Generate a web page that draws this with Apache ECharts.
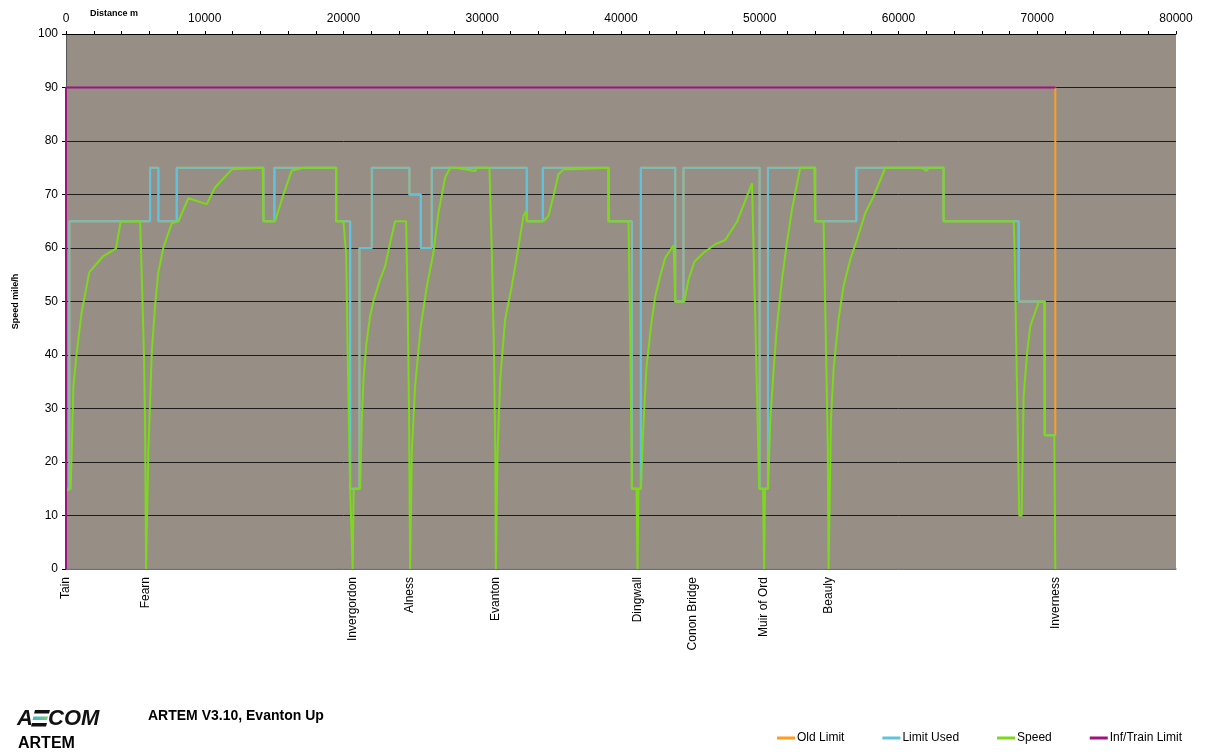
<!DOCTYPE html>
<html>
<head>
<meta charset="utf-8">
<title>ARTEM V3.10, Evanton Up</title>
<script src="https://cdn.jsdelivr.net/npm/echarts@6/dist/echarts.min.js"></script>
<style>
  html, body { margin: 0; padding: 0; background: #ffffff; }
  #chart { width: 1206px; height: 756px; }
</style>
</head>
<body>
<div id="chart"></div>
<script>
// Station positions along the route (m)
const stationNames = ['Tain', 'Fearn', 'Invergordon', 'Alness', 'Evanton', 'Dingwall',
  'Conon Bridge', 'Muir of Ord', 'Beauly', 'Inverness'];
const stationDist = [0, 5770, 20660, 24800, 30980, 41190, 45200, 50310, 54960, 71300];

// Distance axis ticks (m) and speed axis ticks (mile/h)
const distTicks = [0, 10000, 20000, 30000, 40000, 50000, 60000, 70000, 80000];
const speedTicks = [0, 10, 20, 30, 40, 50, 60, 70, 80, 90, 100];

// Limit used: each value applies from its distance to the next one
const limitDist = [0, 240, 6060, 6660, 7980, 14230, 15020, 19470, 20480, 21150, 22040,
  24750, 25570, 26360, 33210, 34370, 39100, 40780, 41430, 43910, 44500, 49990, 50590,
  54000, 56960, 63250, 68660, 70540, 71300];
const limitSpeed = [15, 65, 75, 65, 75, 65, 75, 65, 15, 60, 75,
  70, 60, 75, 65, 75, 65, 15, 75, 50, 75, 15, 75,
  65, 75, 65, 50, 25, 25];

// Old limit: same steps, rising to 90 at the end of the run
const oldLimitDist = [0, 240, 6060, 6660, 7980, 14230, 15020, 19470, 20480, 21150, 22040,
  24750, 25570, 26360, 33210, 34370, 39100, 40780, 41430, 43910, 44500, 49990, 50590,
  54000, 56960, 63250, 68660, 70540, 71300];
const oldLimitSpeed = [15, 65, 75, 65, 75, 65, 75, 65, 15, 60, 75,
  70, 60, 75, 65, 75, 65, 15, 75, 50, 75, 15, 75,
  65, 75, 65, 50, 25, 90];

// Infrastructure / train limit
const trainLimitDist = [0, 0, 71300];
const trainLimitSpeed = [0, 90, 90];

// Simulated train speed
const speedDist = [0, 340, 530, 770, 1130, 1680, 2690, 3600, 3940, 5340, 5480, 5620, 5700, 5770,
  5930, 6180, 6420, 6650, 7020, 7620, 8100, 8820, 10140, 10740, 11950, 14180, 14230, 15070,
  15670, 16270, 17110, 19470, 19470, 19990, 20190, 20330, 20480, 20580, 20660, 20730, 21200,
  21320, 21440, 21630, 21920, 22160, 22590, 23000, 23310, 23720, 24510, 24620, 24720, 24800,
  24920, 25160, 25570, 26010, 26480, 26840, 27330, 27690, 28050, 29490, 29610, 30520, 30700,
  30850, 30940, 30980, 31100, 31290, 31650, 32130, 32540, 32970, 33170, 33210, 34410, 34770,
  35130, 35490, 35860, 36460, 36580, 39100, 39100, 40540, 40660, 40790, 41120, 41190, 41260,
  41440, 41580, 41820, 42160, 42470, 42830, 43190, 43790, 43910, 44560, 44870, 45280, 45950,
  46790, 47510, 48360, 48950, 49440, 49680, 49960, 50240, 50310, 50380, 50600, 50760, 51000,
  51240, 51600, 51960, 52320, 52680, 52920, 53930, 54000, 54600, 54770, 54900, 54960, 55130,
  55320, 55680, 56040, 56530, 57010, 57610, 58210, 59050, 61700, 62010, 62170, 63250, 63250,
  68300, 68370, 68700, 68870, 69020, 69270, 69500, 70100, 70500, 70540, 71230, 71300];
const speedVal = [14.5, 15, 34, 40.4, 48, 55.5, 58.5, 59.9, 64.9, 65, 53, 40, 27, 0,
  21.7, 40.4, 49.2, 55.4, 60.1, 64.6, 65, 69.3, 68.2, 71.3, 74.7, 75, 65, 65,
  70, 74.5, 75, 75, 65, 65, 59, 36, 15, 15, 0, 15, 15,
  27.9, 35.4, 41.7, 47.3, 50.1, 53.8, 56.6, 60.4, 65, 65, 50, 30, 0,
  21.7, 34.2, 45.4, 52.9, 59.1, 66.6, 73.2, 75, 75, 74.4, 75, 75, 58,
  40, 22, 0, 21.7, 35.4, 46.7, 52.9, 59.1, 66, 66.9, 65, 65, 66,
  69.7, 73.8, 74.7, 74.7, 75, 75, 65, 65, 45, 15, 15, 0, 15,
  15, 24.8, 37.3, 45.4, 51, 54.8, 58.2, 60.5, 50, 50, 54.1, 57.4, 59.1,
  60.7, 61.5, 64.9, 68.8, 72.1, 46.7, 15, 15, 0, 15, 15, 27.9, 37.3,
  45.4, 54.1, 61, 67.2, 71.9, 75, 75, 65, 65, 42, 24, 0, 27.9,
  37.3, 46.7, 52.9, 57.9, 61.6, 66.6, 69.7, 75, 75, 74.4, 75, 75, 65,
  65, 59.4, 10, 10, 32.3, 40.4, 45.4, 49.9, 50, 25, 25, 0];

const pairs = (xs, ys) => xs.map((x, i) => [x, ys[i]]);

const FONT = '"Liberation Sans", Arial, sans-serif';
const COL_OLD = '#FF9D1E';
const COL_LIMIT = '#5EC3DC';
const COL_SPEED = '#7BD91A';
const COL_TRAIN = '#A1117F';

const chart = echarts.init(document.getElementById('chart'), null, { renderer: 'canvas' });

const lineSeries = (name, data, color, extra) => Object.assign({
  name: name,
  type: 'line',
  xAxisIndex: 0,
  yAxisIndex: 0,
  data: data,
  showSymbol: false,
  symbol: 'none',
  lineStyle: { color: color, width: 2 },
  itemStyle: { color: color },
  emphasis: { disabled: true },
  silent: true
}, extra || {});

chart.setOption({
  animation: false,
  backgroundColor: '#ffffff',
  textStyle: { fontFamily: FONT },
  grid: {
    left: 66, right: 30, top: 34, bottom: 187,
    show: true, backgroundColor: '#978F86', borderWidth: 0
  },
  legend: {
    right: 19, top: 727,
    icon: 'rect', itemWidth: 18, itemHeight: 3, itemGap: 38,
    textStyle: { fontFamily: FONT, fontSize: 12, color: '#000', padding: [0, 0, 0, -3] },
    data: ['Old Limit', 'Limit Used', 'Speed', 'Inf/Train Limit']
  },
  xAxis: [
    {
      type: 'value', position: 'top',
      min: distTicks[0], max: distTicks[distTicks.length - 1], interval: distTicks[1] - distTicks[0],
      axisLine: { show: true, onZero: false, lineStyle: { color: '#000', width: 1 } },
      axisTick: { show: true, length: 3, lineStyle: { color: '#000' } },
      minorTick: { show: true, splitNumber: 5, length: 3, lineStyle: { color: '#000' } },
      axisLabel: { margin: 9, fontSize: 12, color: '#000', fontFamily: FONT, formatter: v => String(v) },
      splitLine: { show: false }
    },
    {
      type: 'value', position: 'bottom',
      min: distTicks[0], max: distTicks[distTicks.length - 1],
      axisLine: { show: true, onZero: false, lineStyle: { color: '#8a8a8a', width: 1.5 } },
      axisTick: { show: false },
      minorTick: { show: false },
      axisLabel: {
        show: true, rotate: 90, margin: 8, fontSize: 12, color: '#000', fontFamily: FONT,
        customValues: stationDist,
        formatter: v => {
          const i = stationDist.indexOf(v);
          return i >= 0 ? stationNames[i] : '';
        }
      },
      splitLine: { show: false }
    }
  ],
  yAxis: {
    type: 'value',
    min: speedTicks[0], max: speedTicks[speedTicks.length - 1], interval: speedTicks[1] - speedTicks[0],
    name: 'Speed mile/h', nameLocation: 'middle', nameRotate: 90, nameGap: 46,
    nameTextStyle: { fontFamily: FONT, fontSize: 9, fontWeight: 'bold', color: '#000' },
    axisLine: { show: true, lineStyle: { color: '#555', width: 1 } },
    axisTick: { show: true, length: 4, lineStyle: { color: '#000' } },
    axisLabel: { margin: 8, fontSize: 12, color: '#000', fontFamily: FONT },
    splitLine: { show: true, lineStyle: { color: '#1c1c1c', width: 1 } }
  },
  series: [
    lineSeries('Old Limit', pairs(oldLimitDist, oldLimitSpeed), COL_OLD, { step: 'end' }),
    lineSeries('Limit Used', pairs(limitDist, limitSpeed), COL_LIMIT, { step: 'end' }),
    lineSeries('Speed', pairs(speedDist, speedVal), COL_SPEED),
    lineSeries('Inf/Train Limit', pairs(trainLimitDist, trainLimitSpeed), COL_TRAIN)
  ],
  graphic: [
    {
      type: 'text', left: 90, top: 9,
      style: { text: 'Distance m', font: 'bold 9px ' + FONT, fill: '#000' }
    },
    {
      type: 'group', left: 17, top: 708,
      children: [
        { type: 'text', x: 0, y: 0, style: { text: 'A', font: 'italic bold 22px ' + FONT, fill: '#111' } },
        { type: 'polygon', shape: { points: [[18, 2], [33, 2], [32, 5.5], [17, 5.5]] }, style: { fill: '#111' } },
        { type: 'polygon', shape: { points: [[16.5, 8.5], [31, 8.5], [30, 12], [15.5, 12]] },
          style: { fill: new echarts.graphic.LinearGradient(0, 0, 1, 0, [
            { offset: 0, color: '#39B6D6' }, { offset: 1, color: '#7CCB6E' }]) } },
        { type: 'polygon', shape: { points: [[15, 15], [30, 15], [29, 18.5], [14, 18.5]] }, style: { fill: '#111' } },
        { type: 'text', x: 31, y: 0, style: { text: 'COM', font: 'italic bold 22px ' + FONT, fill: '#111' } }
      ]
    },
    {
      type: 'text', left: 148, top: 709,
      style: { text: 'ARTEM V3.10, Evanton Up', font: 'bold 14px ' + FONT, fill: '#000' }
    },
    {
      type: 'text', left: 18, top: 736,
      style: { text: 'ARTEM', font: 'bold 16px ' + FONT, fill: '#000' }
    }
  ]
});
</script>
</body>
</html>
